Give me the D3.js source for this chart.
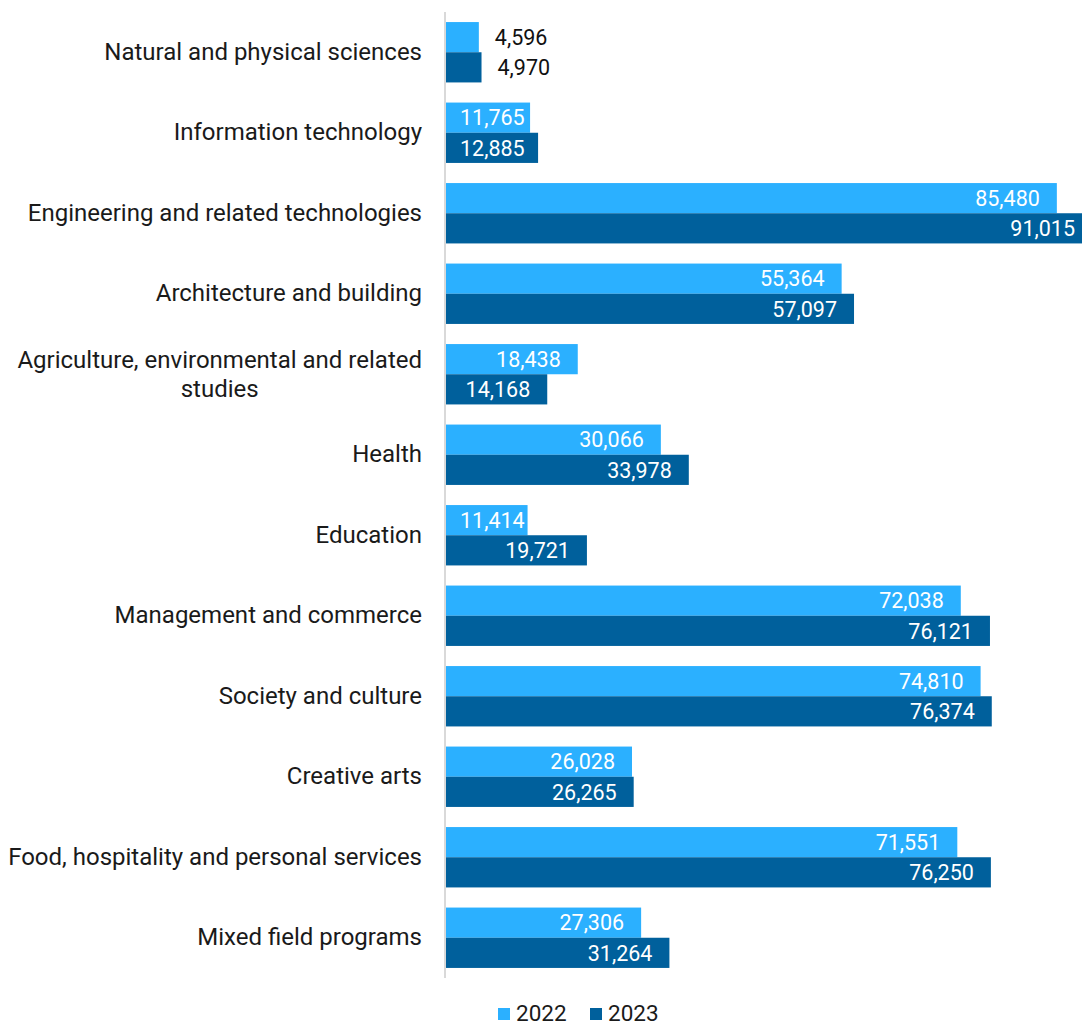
<!DOCTYPE html>
<html>
<head>
<meta charset="utf-8">
<script src="https://cdn.jsdelivr.net/npm/d3@7"></script>
<style>
  html, body { margin: 0; padding: 0; background: #fff; }
  svg { display: block; font-family: Roboto, "Noto Sans", sans-serif; }
</style>
</head>
<body>
<svg id="chart" width="1082" height="1025"></svg>
<script>
// Enrolments by field of education
const categories = [
  "Natural and physical sciences",
  "Information technology",
  "Engineering and related technologies",
  "Architecture and building",
  "Agriculture, environmental and related studies",
  "Health",
  "Education",
  "Management and commerce",
  "Society and culture",
  "Creative arts",
  "Food, hospitality and personal services",
  "Mixed field programs"
];
const values2022 = [4596, 11765, 85480, 55364, 18438, 30066, 11414, 72038, 74810, 26028, 71551, 27306];
const values2023 = [4970, 12885, 91015, 57097, 14168, 33978, 19721, 76121, 76374, 26265, 76250, 31264];
const seriesNames = ["2022", "2023"];
const seriesColors = ["#2BB0FF", "#00609C"];

const W = 1082, H = 1025;
const plot = { left: 446, top: 12, bottom: 978 };
const labelFont = 24, valueFont = 21.5, legendFont = 22.5;

const svg = d3.select("#chart");

const x = d3.scaleLinear().domain([0, 89000]).range([plot.left, W]);
const y = d3.scaleBand().domain(categories).range([plot.top, plot.bottom]).paddingInner(0.25).paddingOuter(0.125);
const ySub = d3.scaleBand().domain(seriesNames).range([0, y.bandwidth()]);

const rows = categories.map((c, i) => ({ cat: c, vals: [values2022[i], values2023[i]] }));

const groups = svg.append("g")
  .selectAll("g.cat").data(rows).join("g")
  .attr("class", "cat")
  .attr("transform", d => `translate(0,${y(d.cat)})`);

groups.selectAll("rect").data(d => d.vals.map((v, k) => ({ v, k })))
  .join("rect")
  .attr("x", x(0))
  .attr("y", d => ySub(seriesNames[d.k]))
  .attr("width", d => x(d.v) - x(0))
  .attr("height", ySub.bandwidth())
  .attr("fill", d => seriesColors[d.k]);

// value labels: inside the bar end in white, outside in black when the bar is too short
groups.selectAll("text.val").data(d => d.vals.map((v, k) => ({ v, k })))
  .join("text")
  .attr("class", "val")
  .attr("font-size", valueFont)
  .attr("y", d => ySub(seriesNames[d.k]) + ySub.bandwidth() / 2)
  .attr("dy", "0.36em")
  .text(d => d3.format(",")(d.v))
  .each(function (d) {
    const t = d3.select(this);
    const tw = this.getComputedTextLength();
    const end = Math.min(x(d.v), W);
    const barW = end - x(0);
    if (barW < tw + 4) {
      t.attr("x", x(d.v) + 16).attr("text-anchor", "start").attr("fill", "#111");
    } else {
      const pos = Math.max(Math.min(x(d.v) - 17, W - 7), x(0) + 14 + tw);
      t.attr("x", Math.min(pos, x(d.v) - 2)).attr("text-anchor", "end").attr("fill", "#fff");
    }
  });

// category axis
const axis = svg.append("g").attr("transform", `translate(${plot.left - 1},0)`)
  .call(d3.axisLeft(y).tickSize(0).tickPadding(23));
axis.select(".domain").attr("stroke", "#D9D9D9").attr("stroke-width", 2)
  .attr("d", `M0,${plot.top}V${plot.bottom}`);
axis.selectAll(".tick text")
  .attr("font-size", labelFont)
  .attr("font-family", "Roboto, sans-serif")
  .attr("fill", "#1a1a1a")
  .each(function (d) {
    // wrap the long label onto two centred lines
    const t = d3.select(this);
    if (d === "Agriculture, environmental and related studies") {
      t.text(null);
      const tx = +t.attr("x");
      const a = t.append("tspan").attr("x", tx).attr("dy", "-0.28em").text("Agriculture, environmental and related");
      const b = t.append("tspan").attr("dy", "1.22em").text("studies");
      const w1 = a.node().getComputedTextLength();
      const w2 = b.node().getComputedTextLength();
      b.attr("x", tx - (w1 - w2) / 2);
    }
  });

// legend
const legend = svg.append("g").attr("transform", "translate(498,1013)");
const items = [{ name: "2022", x: 0 }, { name: "2023", x: 92 }];
items.forEach((it, i) => {
  legend.append("rect").attr("x", it.x).attr("y", -5).attr("width", 12).attr("height", 12).attr("fill", seriesColors[i]);
  legend.append("text").attr("x", it.x + 18).attr("y", 0).attr("dy", "0.34em")
    .attr("font-size", legendFont).attr("fill", "#1a1a1a").text(it.name);
});
</script>
</body>
</html>
